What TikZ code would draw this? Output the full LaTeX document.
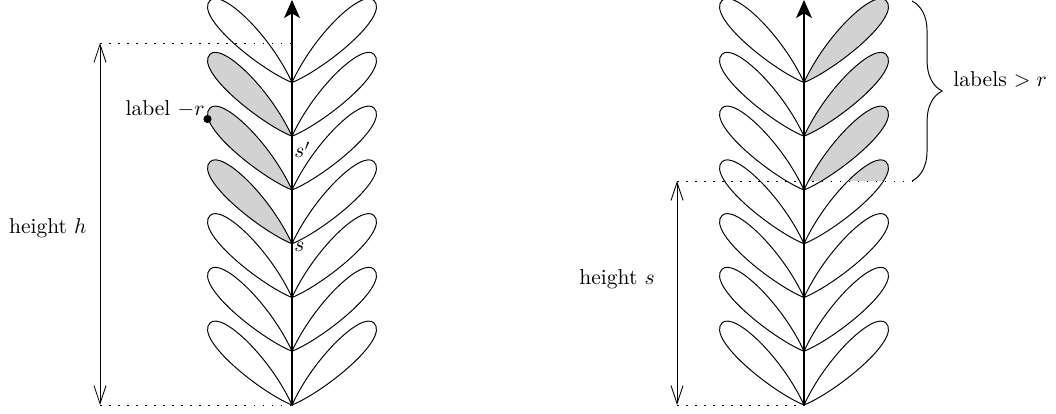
\documentclass[tikz,border=0pt]{standalone}
\usetikzlibrary{arrows.meta,decorations.pathreplacing}
\tikzset{
  leaf/.pic={\path[pic actions] (0,0) .. controls (-32,-13) and (-98,-66) .. (-82,-82) .. controls (-70,-94) and (-22,-48) .. (0,0) -- cycle;},
  leafline/.style={draw, line width=0.45pt},
  shaded/.style={fill=gray!35},
  spine/.style={line width=0.6pt, -{Stealth[length=8.4pt,width=7.4pt,inset=2.2pt]}},
  dimarrow/.style={line width=0.4pt, {Straight Barb[length=8.4pt,width=5.6pt]}-{Straight Barb[length=8.4pt,width=5.6pt]}},
  guide/.style={line width=0.45pt, dash pattern=on 0.8pt off 3.4pt},
  lbl/.style={inner sep=0pt},
}
\begin{document}
\begin{tikzpicture}[x=0.4651pt, y=-0.4651pt]
\useasboundingbox (0,0) rectangle (1056,414);
% junctions
\foreach \k in {0,...,6} {
  \coordinate (A\k) at (292, 405-53.75*\k);
  \coordinate (B\k) at (804, 405-53.75*\k);
}
\coordinate (Atop) at (292,0);
\coordinate (Btop) at (804,0);
% gray fills
\foreach \k in {3,4,5} \pic[shaded] at (A\k) {leaf};
\begin{scope}
  \clip (700,-20) rectangle (1000,181);
  \foreach \k in {3,4,5,6} \pic[shaded, xscale=-1] at (B\k) {leaf};
\end{scope}
% leaf outlines
\foreach \k in {0,...,6} {
  \pic[leafline] at (A\k) {leaf};
  \pic[leafline, xscale=-1] at (A\k) {leaf};
  \pic[leafline] at (B\k) {leaf};
  \pic[leafline, xscale=-1] at (B\k) {leaf};
}
% left figure
\coordinate (H1) at (100,43);
\coordinate (H0) at (100,405);
\coordinate (T1) at (292,43);
\draw[guide] (H1) -- (T1);
\draw[guide] (H0) -- (A0);
\draw[dimarrow] (H0) -- (H1);
\draw[spine] (A0) -- (Atop);
\coordinate (D) at (207.5,119);
\fill (D) circle[radius=1.9pt];
\node[lbl, anchor=base east] (lab) at (205,116) {label $-r$};
\node[lbl, anchor=base west] (sp) at (294,158) {$s'$};
\node[lbl, anchor=base west] (s) at (294,252) {$s$};
\node[lbl, anchor=base east] (hh) at (87,234) {height $h$};
% right figure
\coordinate (S1) at (677,181);
\coordinate (S0) at (677,405);
\coordinate (E) at (912,181);
\coordinate (Etop) at (912,1);
\draw[guide] (S1) -- (E);
\draw[guide] (S0) -- (B0);
\draw[dimarrow] (S0) -- (S1);
\draw[spine] (B0) -- (Btop);
\draw[line width=0.45pt, decorate, decoration={brace, amplitude=14pt}] (Etop) -- (E);
\node[lbl, anchor=base east] (hs) at (655,285) {height $s$};
\node[lbl, anchor=base west] (lr) at (953,87) {labels $>r$};
\end{tikzpicture}
\end{document}
